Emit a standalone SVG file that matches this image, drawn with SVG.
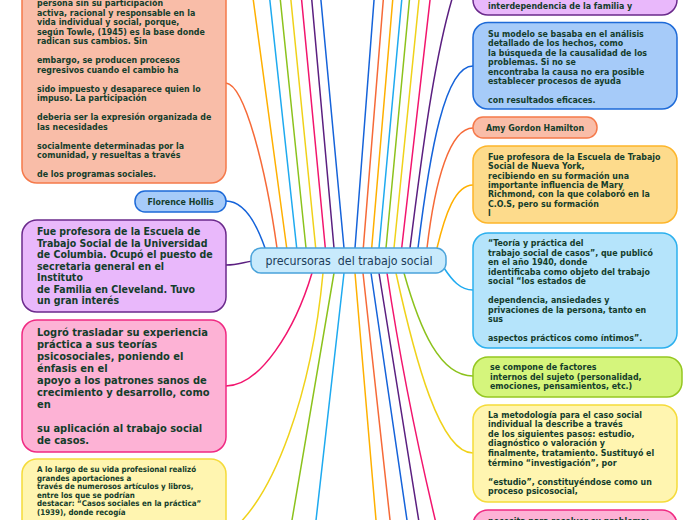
<svg xmlns="http://www.w3.org/2000/svg" width="696" height="520" viewBox="0 0 696 520">
<style>
.t{font-family:"DejaVu Sans Condensed","DejaVu Sans",sans-serif;font-weight:bold;fill:#143d2b;font-size:8.8px}
.c{fill:none;stroke-width:1.5;stroke-linecap:round}
.box{stroke-width:1.5}
.or{stroke:#f66a38}.oy{stroke:#ffb000}.lb{stroke:#1eaaf0}.gr{stroke:#8cc21c}.ye{stroke:#f0d21a}.pk{stroke:#f2156e}.pu{stroke:#5b1f80}.bl{stroke:#1563da}
</style>
<rect width="696" height="520" fill="#ffffff"/>
<g id="connectors">
<path class="c or" d="M226,83 C245,85 266,170 277,248"/>
<path class="c bl" d="M226,201 C244,201 256,222 265,248"/>
<path class="c pu" d="M226,265 C238,265 244,262 253,261"/>
<path class="c pk" d="M226,386 C260,386 295,330 312,273"/>
<path class="c ye" d="M323,273 C312,390 275,500 226,535"/>
<path class="c oy" d="M286.7,248 L247.9,-40"/>
<path class="c lb" d="M296.7,248 L265.5,-40"/>
<path class="c gr" d="M306,248 L276.2,-40"/>
<path class="c ye" d="M315.7,248 L286.9,-40"/>
<path class="c pk" d="M325.3,248 L297.8,-40"/>
<path class="c pu" d="M334,248 L308.2,-40"/>
<path class="c bl" d="M344,248 L317.2,-40"/>
<path class="c bl" d="M355,248 L377.1,-40"/>
<path class="c or" d="M363.3,248 L386.5,-40"/>
<path class="c oy" d="M371.7,248 L396.1,-40"/>
<path class="c lb" d="M379,248 L405.4,-40"/>
<path class="c gr" d="M386,248 L413.2,-40"/>
<path class="c ye" d="M394,248 L423.0,-40"/>
<path class="c pk" d="M401.7,248 L434.6,-40"/>
<path class="c pu" d="M410,248 C420,170 435,40 460,-25"/>
<path class="c bl" d="M418,248 C430,150 445,66 473,66"/>
<path class="c or" d="M427,248 C435,180 450,128 473,128"/>
<path class="c oy" d="M437,248 C445,215 455,185 473,185"/>
<path class="c lb" d="M444,268 C452,280 460,290 473,290"/>
<path class="c gr" d="M404,273 C420,330 440,376 473,376"/>
<path class="c ye" d="M396,273 C415,360 440,453 473,453"/>
<path class="c gr" d="M334,273 L285.2,560"/>
<path class="c lb" d="M344,273 L311.5,560"/>
<path class="c oy" d="M355,273 L379.4,560"/>
<path class="c or" d="M363,273 L394.4,560"/>
<path class="c bl" d="M371,273 L412.8,560"/>
<path class="c pu" d="M379,273 L425.1,560"/>
<path class="c pk" d="M387,273 C400,360 420,460 445,560"/>
</g>
<g id="center">
<rect x="251" y="248" width="195" height="25" rx="10" fill="#c8eafc" stroke="#4aa3da" stroke-width="1.5"/>
<text x="349" y="265" text-anchor="middle" xml:space="preserve" style="white-space:pre;font-family:'DejaVu Sans Condensed','DejaVu Sans',sans-serif;font-size:12.3px;fill:#1c3d5a">precursoras  del trabajo social</text>
</g>
<g id="node-towle">
<rect class="box" x="22" y="-30" width="204" height="213" rx="15" fill="#f9bda8" stroke="#f5794a"/>
<text class="t"><tspan x="37" y="6">persona sin su participación</tspan><tspan x="37" y="15.5">activa, racional y responsable en la</tspan><tspan x="37" y="25">vida individual y social, porque,</tspan><tspan x="37" y="34.5">según Towle, (1945) es la base donde</tspan><tspan x="37" y="44">radican sus cambios. Sin</tspan><tspan x="37" y="63">embargo, se producen procesos</tspan><tspan x="37" y="72.5">regresivos cuando el cambio ha</tspan><tspan x="37" y="91.5">sido impuesto y desaparece quien lo</tspan><tspan x="37" y="101">impuso. La participación</tspan><tspan x="37" y="120">deberia ser la expresión organizada de</tspan><tspan x="37" y="129.5">las necesidades</tspan><tspan x="37" y="148.5">socialmente determinadas por la</tspan><tspan x="37" y="158">comunidad, y resueltas a través</tspan><tspan x="37" y="177">de los programas sociales.</tspan></text>
</g>
<g id="node-florence">
<rect class="box" x="135" y="191" width="91" height="21" rx="10" fill="#a6cbf9" stroke="#1d6ad8"/>
<text class="t" x="180.5" y="204.5" text-anchor="middle">Florence Hollis</text>
</g>
<g id="node-columbia">
<rect class="box" x="22" y="220" width="204" height="92" rx="15" fill="#e9b8fb" stroke="#6b2a8c"/>
<text class="t" style="font-size:10.5px"><tspan x="37" y="235">Fue profesora de la Escuela de</tspan><tspan x="37" y="246.5">Trabajo Social de la Universidad</tspan><tspan x="37" y="258">de Columbia. Ocupó el puesto de</tspan><tspan x="37" y="269.5">secretaria general en el</tspan><tspan x="37" y="281">Instituto</tspan><tspan x="37" y="292.5">de Familia en Cleveland. Tuvo</tspan><tspan x="37" y="304">un gran interés</tspan></text>
</g>
<g id="node-trasladar">
<rect class="box" x="22" y="320" width="204" height="132" rx="15" fill="#fdb2d5" stroke="#f02a82"/>
<text class="t" style="font-size:11px"><tspan x="37" y="335.5">Logró trasladar su experiencia</tspan><tspan x="37" y="347.5">práctica a sus teorías</tspan><tspan x="37" y="359.5">psicosociales, poniendo el</tspan><tspan x="37" y="371.5">énfasis en el</tspan><tspan x="37" y="383.5">apoyo a los patrones sanos de</tspan><tspan x="37" y="395.5">crecimiento y desarrollo, como</tspan><tspan x="37" y="407.5">en</tspan><tspan x="37" y="431.5">su aplicación al trabajo social</tspan><tspan x="37" y="443.5">de casos.</tspan></text>
</g>
<g id="node-aportaciones">
<rect class="box" x="22" y="459" width="204" height="120" rx="15" fill="#fff5b0" stroke="#f5db3a"/>
<text class="t" style="font-size:7.9px"><tspan x="37" y="472">A lo largo de su vida profesional realizó</tspan><tspan x="37" y="480.5">grandes aportaciones a</tspan><tspan x="37" y="489">través de numerosos artículos y libros,</tspan><tspan x="37" y="497.5">entre los que se podrían</tspan><tspan x="37" y="506">destacar: “Casos sociales en la práctica”</tspan><tspan x="37" y="514.5">(1939), donde recogía</tspan></text>
</g>
<g id="node-interdependencia">
<rect class="box" x="473" y="-40" width="204" height="55" rx="15" fill="#e9b8fb" stroke="#6b2a8c"/>
<text class="t" x="488" y="8.5">interdependencia de la familia y</text>
</g>
<g id="node-modelo">
<rect class="box" x="473" y="22.5" width="204" height="86.5" rx="15" fill="#a6cbf9" stroke="#1d6ad8"/>
<text class="t"><tspan x="488" y="36.5">Su modelo se basaba en el análisis</tspan><tspan x="488" y="46">detallado de los hechos, como</tspan><tspan x="488" y="55.5">la búsqueda de la causalidad de los</tspan><tspan x="488" y="65">problemas. Si no se</tspan><tspan x="488" y="74.5">encontraba la causa no era posible</tspan><tspan x="488" y="84">establecer procesos de ayuda</tspan><tspan x="488" y="103">con resultados eficaces.</tspan></text>
</g>
<g id="node-amy">
<rect class="box" x="473" y="117" width="124" height="21" rx="10" fill="#f9bda8" stroke="#f5794a"/>
<text class="t" x="535" y="130.5" text-anchor="middle">Amy Gordon Hamilton</text>
</g>
<g id="node-nuevayork">
<rect class="box" x="473" y="146" width="204" height="77" rx="15" fill="#fddb8c" stroke="#fdb52a"/>
<text class="t"><tspan x="488" y="160">Fue profesora de la Escuela de Trabajo</tspan><tspan x="488" y="169.3">Social de Nueva York,</tspan><tspan x="488" y="178.6">recibiendo en su formación una</tspan><tspan x="488" y="187.9">importante influencia de Mary</tspan><tspan x="488" y="197.2">Richmond, con la que colaboró en la</tspan><tspan x="488" y="206.5">C.O.S, pero su formación</tspan><tspan x="488" y="215.8">l</tspan></text>
</g>
<g id="node-teoria">
<rect class="box" x="473" y="233" width="204" height="115" rx="15" fill="#b5e4fb" stroke="#2cb0ee"/>
<text class="t"><tspan x="488" y="246">“Teoría y práctica del</tspan><tspan x="488" y="255.5">trabajo social de casos”, que publicó</tspan><tspan x="488" y="265">en el año 1940, donde</tspan><tspan x="488" y="274.5">identificaba como objeto del trabajo</tspan><tspan x="488" y="284">social “los estados de</tspan><tspan x="488" y="303">dependencia, ansiedades y</tspan><tspan x="488" y="312.5">privaciones de la persona, tanto en</tspan><tspan x="488" y="322">sus</tspan><tspan x="488" y="341">aspectos prácticos como íntimos”.</tspan></text>
</g>
<g id="node-factores">
<rect class="box" x="473" y="357" width="209" height="40" rx="15" fill="#d5f57c" stroke="#95c720"/>
<text class="t"><tspan x="490" y="370">se compone de factores</tspan><tspan x="490" y="379.5">internos del sujeto (personalidad,</tspan><tspan x="490" y="389">emociones, pensamientos, etc.)</tspan></text>
</g>
<g id="node-metodologia">
<rect class="box" x="473" y="405" width="204" height="97" rx="15" fill="#fff5b0" stroke="#f5db3a"/>
<text class="t"><tspan x="488" y="417.5">La metodología para el caso social</tspan><tspan x="488" y="427.1">individual la describe a través</tspan><tspan x="488" y="436.7">de los siguientes pasos: estudio,</tspan><tspan x="488" y="446.3">diagnóstico o valoración y</tspan><tspan x="488" y="455.9">finalmente, tratamiento. Sustituyó el</tspan><tspan x="488" y="465.5">término “investigación”, por</tspan><tspan x="488" y="484.7">“estudio”, constituyéndose como un</tspan><tspan x="488" y="494.3">proceso psicosocial,</tspan></text>
</g>
<g id="node-necesita">
<rect class="box" x="473" y="510" width="204" height="60" rx="15" fill="#fdb2d5" stroke="#f02a82"/>
<text class="t" x="488" y="523.5">necesita para resolver su problema;</text>
</g>
</svg>
